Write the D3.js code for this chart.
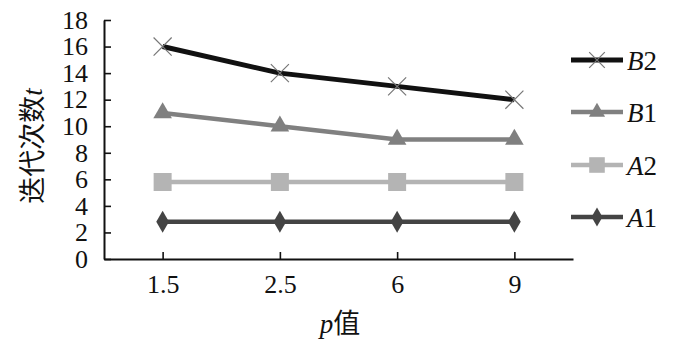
<!DOCTYPE html>
<html>
<head>
<meta charset="utf-8">
<script src="https://cdn.jsdelivr.net/npm/d3@7"></script>
<style>
  body { margin: 0; background: #fff; }
  svg text { font-family: "Liberation Serif", "Times New Roman", serif; fill: #111; }
</style>
</head>
<body>
<script>
// categories (p values) and series
var pValues = ["1.5", "2.5", "6", "9"];
var seriesNames = ["B2", "B1", "A2", "A1"];
var B2 = [16, 14, 13, 12];
var B1 = [11, 10, 9, 9];
var A2 = [5.8, 5.8, 5.8, 5.8];
var A1 = [2.8, 2.8, 2.8, 2.8];
var yTicks = [0, 2, 4, 6, 8, 10, 12, 14, 16, 18];

var styles = {
  B2: {color: "#111", width: 5, symbol: d3.symbolTimes, size: 215, markFill: "none", markStroke: "#777"},
  B1: {color: "#808080", width: 4.5, symbol: d3.symbolTriangle, size: 150, markFill: "#808080", markStroke: "none"},
  A2: {color: "#b4b4b4", width: 4.5, symbol: d3.symbolSquare, size: 324, markFill: "#b4b4b4", markStroke: "none"},
  A1: {color: "#444", width: 4.5, symbol: d3.symbolDiamond, size: 140, markFill: "#444", markStroke: "none"}
};
var values = {B2: B2, B1: B1, A2: A2, A1: A1};

var W = 700, H = 346;
var plotLeft = 104, plotRight = 573, plotTop = 20, plotBottom = 259;

var svg = d3.select("body").append("svg")
    .attr("width", W)
    .attr("height", H);

var x = d3.scalePoint()
    .domain(pValues)
    .range([plotLeft, plotRight])
    .padding(0.5);

var y = d3.scaleLinear()
    .domain([0, 18])
    .range([plotBottom, plotTop]);

// axes
var yAxis = svg.append("g")
    .attr("transform", "translate(" + plotLeft + ",0)")
    .call(d3.axisLeft(y).tickValues(yTicks).tickSizeInner(-7).tickSizeOuter(0).tickPadding(16));

var xAxis = svg.append("g")
    .attr("transform", "translate(0," + plotBottom + ")")
    .call(d3.axisBottom(x).tickSizeInner(-7).tickSizeOuter(0).tickPadding(16));

[yAxis, xAxis].forEach(function(g) {
  g.selectAll("path.domain").attr("stroke", "#111").attr("stroke-width", 2);
  g.selectAll(".tick line").attr("stroke", "#111").attr("stroke-width", 1.6);
  g.selectAll(".tick text")
    .style("font-family", "'Liberation Serif', serif")
    .style("font-size", "26px")
    .attr("fill", "#111");
});

// lines
var line = d3.line()
  .x(function(d, i) { return x(pValues[i]); })
  .y(function(d) { return y(d); });

seriesNames.slice().reverse().forEach(function(name) {
  var s = styles[name];
  svg.append("path")
    .attr("d", line(values[name]))
    .attr("fill", "none")
    .attr("stroke", s.color)
    .attr("stroke-width", s.width);

  svg.selectAll(null)
    .data(values[name])
    .enter()
    .append("path")
    .attr("transform", function(d, i) { return "translate(" + x(pValues[i]) + "," + y(d) + ")"; })
    .attr("d", d3.symbol().type(s.symbol).size(s.size))
    .attr("fill", s.markFill)
    .attr("stroke", s.markStroke)
    .attr("stroke-width", 1.2);
});

// legend
var legY = [60, 112, 165, 217];
seriesNames.forEach(function(name, i) {
  var s = styles[name];
  var g = svg.append("g").attr("transform", "translate(571," + legY[i] + ")");
  g.append("line")
    .attr("x1", 0).attr("x2", 52)
    .attr("stroke", s.color)
    .attr("stroke-width", s.width);
  g.append("path")
    .attr("transform", "translate(26,0)")
    .attr("d", d3.symbol().type(s.symbol).size(s.size * 0.75))
    .attr("fill", s.markFill)
    .attr("stroke", s.markStroke)
    .attr("stroke-width", 1.2);
  var t = g.append("text")
    .attr("x", 56)
    .attr("y", 10)
    .style("font-size", "27px");
  t.append("tspan").style("font-style", "italic").text(name[0]);
  t.append("tspan").text(name.slice(1));
});

// axis titles
var yt = svg.append("text")
  .attr("transform", "translate(42,146) rotate(-90)")
  .attr("text-anchor", "middle")
  .style("font-size", "27px");
yt.append("tspan").style("font-family", "'Noto Sans CJK SC', sans-serif").text("迭代次数");
yt.append("tspan").style("font-style", "italic").text("t");

var xt = svg.append("text")
  .attr("x", 340)
  .attr("y", 333)
  .attr("text-anchor", "middle")
  .style("font-size", "27px");
xt.append("tspan").style("font-style", "italic").text("p");
xt.append("tspan").style("font-family", "'Noto Sans CJK SC', sans-serif").text("值");
</script>
</body>
</html>
